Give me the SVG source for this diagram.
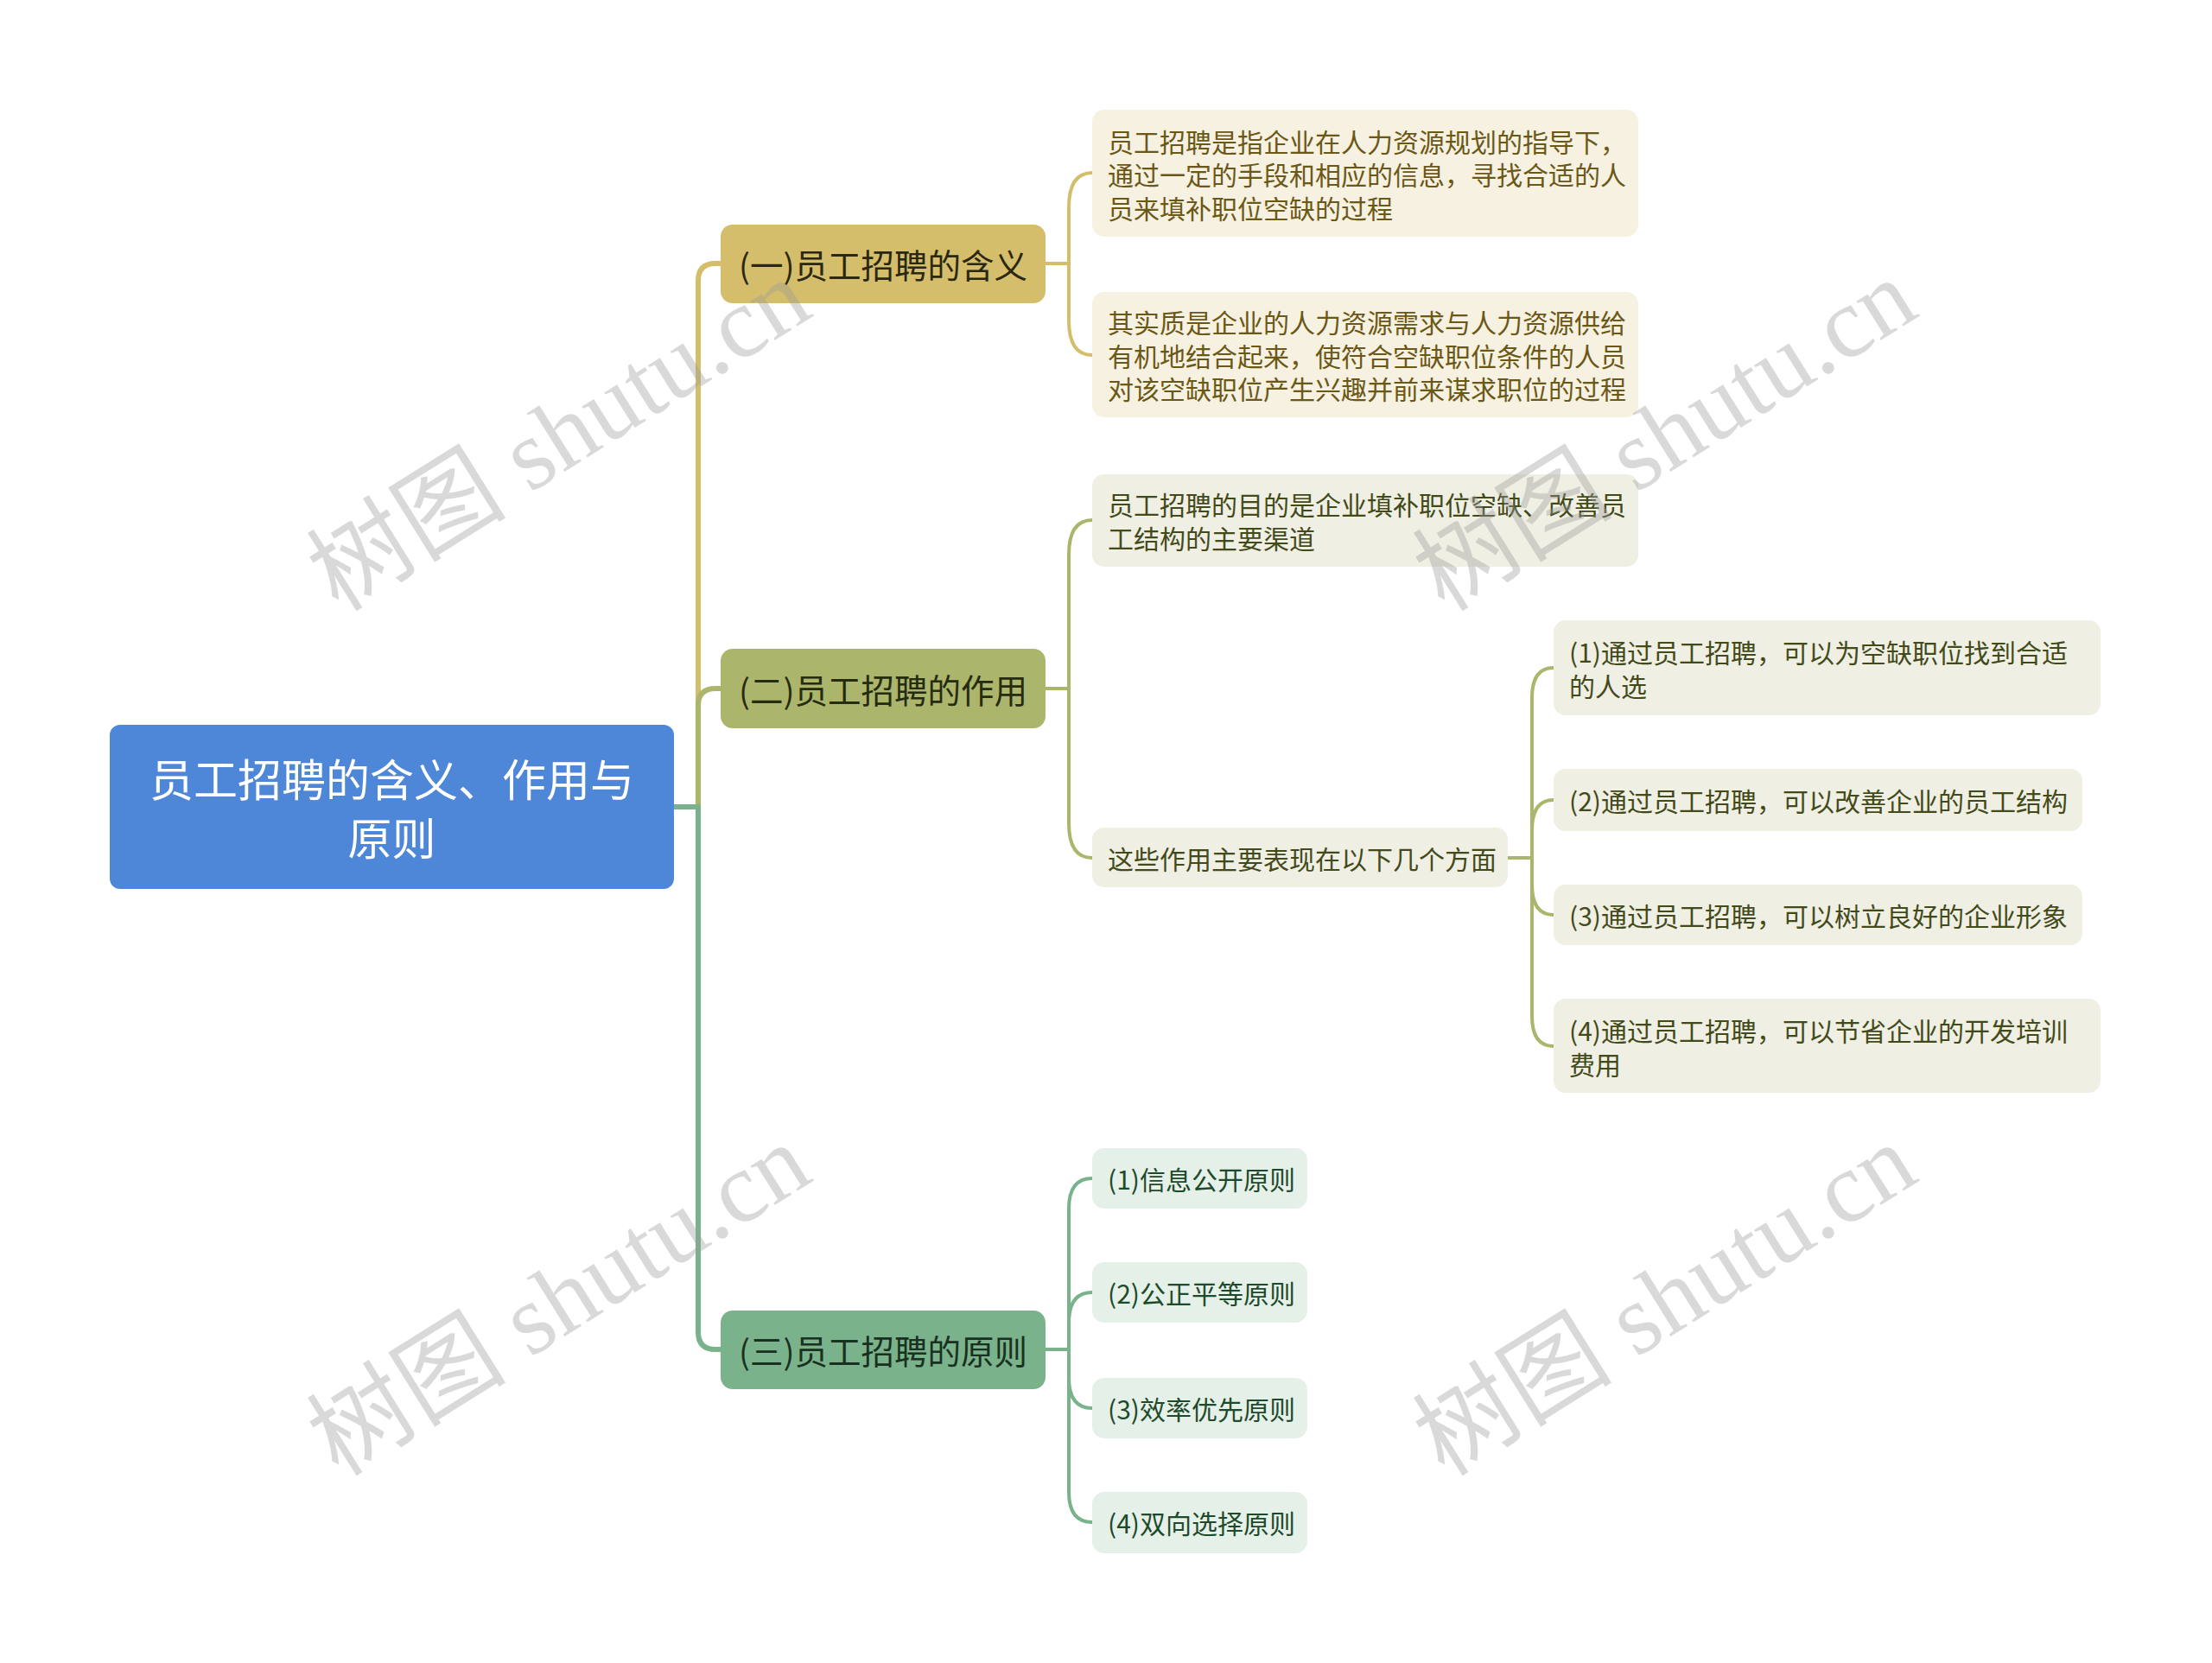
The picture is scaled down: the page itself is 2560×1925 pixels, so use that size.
<svg xmlns="http://www.w3.org/2000/svg" width="2560" height="1925" viewBox="0 0 2560 1925">
<style>
text{font-family:"Noto Sans CJK SC","Noto Sans",sans-serif;dominant-baseline:central}
.c{fill:none;stroke-width:4;stroke-linecap:round;stroke-linejoin:round}
.t{stroke-width:6;stroke-linecap:butt}
.cg{stroke:#D4BD6B}.co{stroke:#ACB56C}.cn{stroke:#7AB38B}
.root rect{fill:#4E86D8}.root text{fill:#fff;font-size:51px;text-anchor:middle}
.l1 text{font-size:38.5px;text-anchor:middle}
.g1 rect{fill:#D4BD6B}.g1 text{fill:#2B2710}
.g2 rect{fill:#ACB56C}.g2 text{fill:#262C10}
.g3 rect{fill:#7AB38B}.g3 text{fill:#1A3020}
.lf text{font-size:30px}
.la rect{fill:#F6F1E0}.la text{fill:#6B5716}
.lb rect{fill:#EFEFE3}.lb text{fill:#434A1A}
.lc rect{fill:#E5F0E8}.lc text{fill:#1E4A2C}
.wm text{font-family:"Liberation Serif","Noto Sans CJK SC",serif;font-size:116px;fill:#9A9A9A;fill-opacity:0.38;text-anchor:middle}
</style>
<rect width="2560" height="1925" fill="#fff"/>
<g id="connectors">
<path class="c t cg" d="M780,934 H808 V325 Q808,305 828,305 H834"/>
<path class="c t co" d="M780,934 H808 V817 Q808,797 828,797 H834"/>
<path class="c t cn" d="M780,934 H808 V1542 Q808,1562 828,1562 H834"/>
<path class="c cg" d="M1210,305 H1237 V240 Q1237,200 1264,200 M1237,305 V371 Q1237,411 1264,411"/>
<path class="c co" d="M1210,797 H1237 V642 Q1237,602 1264,602 M1237,797 V953 Q1237,993 1264,993"/>
<path class="c co" d="M1745,993 H1773 V808 Q1773,773 1798,773 M1773,993 V961 Q1773,926 1798,926 M1773,993 V1024 Q1773,1059 1798,1059 M1773,993 V1176 Q1773,1211 1798,1211"/>
<path class="c cn" d="M1210,1562 H1237 V1399 Q1237,1364 1264,1364 M1237,1562 V1531 Q1237,1496 1264,1496 M1237,1562 V1595 Q1237,1630 1264,1630 M1237,1562 V1727 Q1237,1762 1264,1762"/>
</g>
<g id="root" class="root">
<rect x="127" y="839" width="653" height="190" rx="12"/>
<text x="453.5" y="900">员工招聘的含义、作用与</text>
<text x="453.5" y="968">原则</text>
</g>
<g id="n1" class="l1 g1">
<rect x="834" y="260" width="376" height="91" rx="14"/>
<text x="1022" y="305">(一)员工招聘的含义</text>
</g>
<g id="n2" class="l1 g2">
<rect x="834" y="751" width="376" height="92" rx="14"/>
<text x="1022" y="797">(二)员工招聘的作用</text>
</g>
<g id="n3" class="l1 g3">
<rect x="834" y="1517" width="376" height="91" rx="14"/>
<text x="1022" y="1562">(三)员工招聘的原则</text>
</g>
<g id="n1a" class="lf la">
<rect x="1264" y="127" width="632" height="147" rx="14"/>
<text x="1282" y="163">员工招聘是指企业在人力资源规划的指导下，</text>
<text x="1282" y="201">通过一定的手段和相应的信息，寻找合适的人</text>
<text x="1282" y="240">员来填补职位空缺的过程</text>
</g>
<g id="n1b" class="lf la">
<rect x="1264" y="338" width="632" height="145" rx="14"/>
<text x="1282" y="372">其实质是企业的人力资源需求与人力资源供给</text>
<text x="1282" y="411">有机地结合起来，使符合空缺职位条件的人员</text>
<text x="1282" y="449">对该空缺职位产生兴趣并前来谋求职位的过程</text>
</g>
<g id="n2a" class="lf lb">
<rect x="1264" y="549" width="632" height="107" rx="14"/>
<text x="1282" y="583">员工招聘的目的是企业填补职位空缺、改善员</text>
<text x="1282" y="622">工结构的主要渠道</text>
</g>
<g id="n2b" class="lf lb">
<rect x="1264" y="958" width="481" height="69" rx="14"/>
<text x="1282" y="993">这些作用主要表现在以下几个方面</text>
</g>
<g id="n2b1" class="lf lb">
<rect x="1798" y="718" width="633" height="110" rx="14"/>
<text x="1816" y="754">(1)通过员工招聘，可以为空缺职位找到合适</text>
<text x="1816" y="793">的人选</text>
</g>
<g id="n2b2" class="lf lb">
<rect x="1798" y="890" width="612" height="72" rx="14"/>
<text x="1816" y="926">(2)通过员工招聘，可以改善企业的员工结构</text>
</g>
<g id="n2b3" class="lf lb">
<rect x="1798" y="1024" width="612" height="70" rx="14"/>
<text x="1816" y="1059">(3)通过员工招聘，可以树立良好的企业形象</text>
</g>
<g id="n2b4" class="lf lb">
<rect x="1798" y="1156" width="633" height="109" rx="14"/>
<text x="1816" y="1192">(4)通过员工招聘，可以节省企业的开发培训</text>
<text x="1816" y="1231">费用</text>
</g>
<g id="n3a" class="lf lc">
<rect x="1264" y="1329" width="249" height="70" rx="14"/>
<text x="1282" y="1364">(1)信息公开原则</text>
</g>
<g id="n3b" class="lf lc">
<rect x="1264" y="1461" width="249" height="70" rx="14"/>
<text x="1282" y="1496">(2)公正平等原则</text>
</g>
<g id="n3c" class="lf lc">
<rect x="1264" y="1595" width="249" height="70" rx="14"/>
<text x="1282" y="1630">(3)效率优先原则</text>
</g>
<g id="n3d" class="lf lc">
<rect x="1264" y="1727" width="249" height="71" rx="14"/>
<text x="1282" y="1762">(4)双向选择原则</text>
</g>
<g class="wm">
<text transform="translate(647,504) rotate(-32)">树图 shutu.cn</text>
<text transform="translate(1927,504) rotate(-32)">树图 shutu.cn</text>
<text transform="translate(647,1505) rotate(-32)">树图 shutu.cn</text>
<text transform="translate(1927,1505) rotate(-32)">树图 shutu.cn</text>
</g>
</svg>
